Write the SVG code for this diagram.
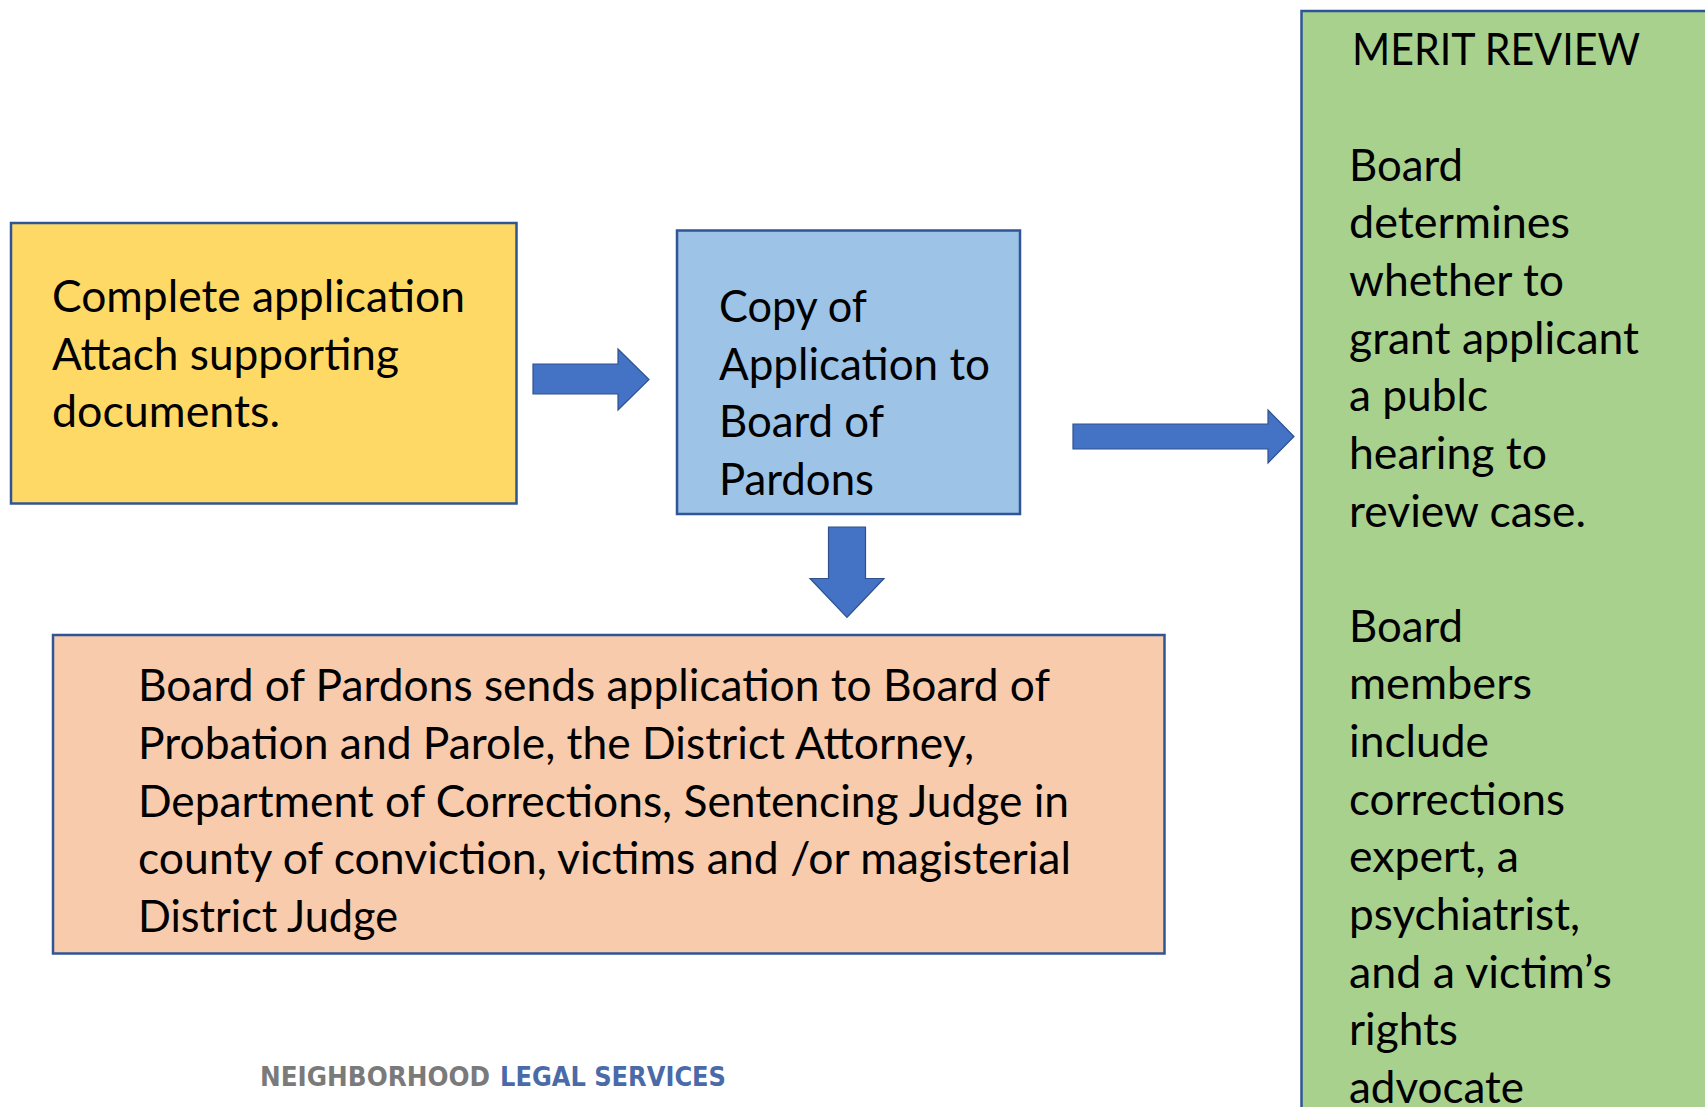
<svg xmlns="http://www.w3.org/2000/svg" width="1705" height="1107" viewBox="0 0 1705 1107">
<defs>
<style>
.box{stroke:#2F5597;stroke-width:2.5}
.t{font-family:Lato,"Liberation Sans",sans-serif;font-size:43.5px;fill:#000}
.arr{fill:#4472C4;stroke:#2F528F;stroke-width:1.2}
.ft{font-family:"DejaVu Sans","Liberation Sans",sans-serif;font-weight:bold;font-size:26px}
</style>
</defs>
<rect width="1705" height="1107" fill="#fff"/>
<g id="connectors">
<polygon class="arr" points="533,364 618,364 618,349 649,379.5 618,410 618,394 533,394"/>
<polygon class="arr" points="828.5,527 865.5,527 865.5,578.5 884,578.5 847,617.5 810,578.5 828.5,578.5"/>
<polygon class="arr" points="1073,424 1268,424 1268,410 1294,436.5 1268,463 1268,449 1073,449"/>
</g>
<g id="node-complete">
<rect class="box" x="11" y="223" width="505.5" height="280.5" fill="#FFD966"/>
<text class="t"><tspan x="52" y="312" textLength="413" lengthAdjust="spacingAndGlyphs">Complete application</tspan><tspan x="52" y="370" textLength="347" lengthAdjust="spacingAndGlyphs">Attach supporting</tspan><tspan x="52" y="427" textLength="228" lengthAdjust="spacingAndGlyphs">documents.</tspan></text>
</g>
<g id="node-copy">
<rect class="box" x="677" y="230.5" width="343" height="283.5" fill="#9DC3E6"/>
<text class="t"><tspan x="719" y="322" textLength="148" lengthAdjust="spacingAndGlyphs">Copy of</tspan><tspan x="719" y="379.5" textLength="271" lengthAdjust="spacingAndGlyphs">Application to</tspan><tspan x="719" y="437" textLength="165" lengthAdjust="spacingAndGlyphs">Board of</tspan><tspan x="719" y="495" textLength="155" lengthAdjust="spacingAndGlyphs">Pardons</tspan></text>
</g>
<g id="node-sends">
<rect class="box" x="53" y="635" width="1111.5" height="318.5" fill="#F8CBAD"/>
<text class="t"><tspan x="138" y="701" textLength="912" lengthAdjust="spacingAndGlyphs">Board of Pardons sends application to Board of</tspan><tspan x="138" y="759" textLength="836" lengthAdjust="spacingAndGlyphs">Probation and Parole, the District Attorney,</tspan><tspan x="138" y="817" textLength="931" lengthAdjust="spacingAndGlyphs">Department of Corrections, Sentencing Judge in</tspan><tspan x="138" y="874" textLength="933" lengthAdjust="spacingAndGlyphs">county of conviction, victims and /or magisterial</tspan><tspan x="138" y="932" textLength="260" lengthAdjust="spacingAndGlyphs">District Judge</tspan></text>
</g>
<g id="node-merit">
<rect class="box" x="1301.5" y="11" width="430" height="1120" fill="#A9D18E"/>
<text class="t"><tspan x="1352" y="65" textLength="288" lengthAdjust="spacingAndGlyphs">MERIT REVIEW</tspan><tspan x="1349" y="180.5" textLength="114" lengthAdjust="spacingAndGlyphs">Board</tspan><tspan x="1349" y="238" textLength="221" lengthAdjust="spacingAndGlyphs">determines</tspan><tspan x="1349" y="296" textLength="215" lengthAdjust="spacingAndGlyphs">whether to</tspan><tspan x="1349" y="353.5" textLength="290" lengthAdjust="spacingAndGlyphs">grant applicant</tspan><tspan x="1349" y="411" textLength="139" lengthAdjust="spacingAndGlyphs">a publc</tspan><tspan x="1349" y="469" textLength="198" lengthAdjust="spacingAndGlyphs">hearing to</tspan><tspan x="1349" y="526.5" textLength="237" lengthAdjust="spacingAndGlyphs">review case.</tspan><tspan x="1349" y="641.5" textLength="114" lengthAdjust="spacingAndGlyphs">Board</tspan><tspan x="1349" y="699" textLength="183" lengthAdjust="spacingAndGlyphs">members</tspan><tspan x="1349" y="757" textLength="140" lengthAdjust="spacingAndGlyphs">include</tspan><tspan x="1349" y="814.5" textLength="216" lengthAdjust="spacingAndGlyphs">corrections</tspan><tspan x="1349" y="872" textLength="170" lengthAdjust="spacingAndGlyphs">expert, a</tspan><tspan x="1349" y="930" textLength="231" lengthAdjust="spacingAndGlyphs">psychiatrist,</tspan><tspan x="1349" y="987.5" textLength="263" lengthAdjust="spacingAndGlyphs">and a victim’s</tspan><tspan x="1349" y="1045" textLength="109" lengthAdjust="spacingAndGlyphs">rights</tspan><tspan x="1349" y="1102.5" textLength="175" lengthAdjust="spacingAndGlyphs">advocate</tspan></text>
</g>
<g id="footer">
<text class="ft" y="1086"><tspan x="260" fill="#7A7A7A" textLength="230" lengthAdjust="spacingAndGlyphs">NEIGHBORHOOD</tspan><tspan x="500" fill="#4A6AA8" textLength="226" lengthAdjust="spacingAndGlyphs">LEGAL SERVICES</tspan></text>
</g>
</svg>
